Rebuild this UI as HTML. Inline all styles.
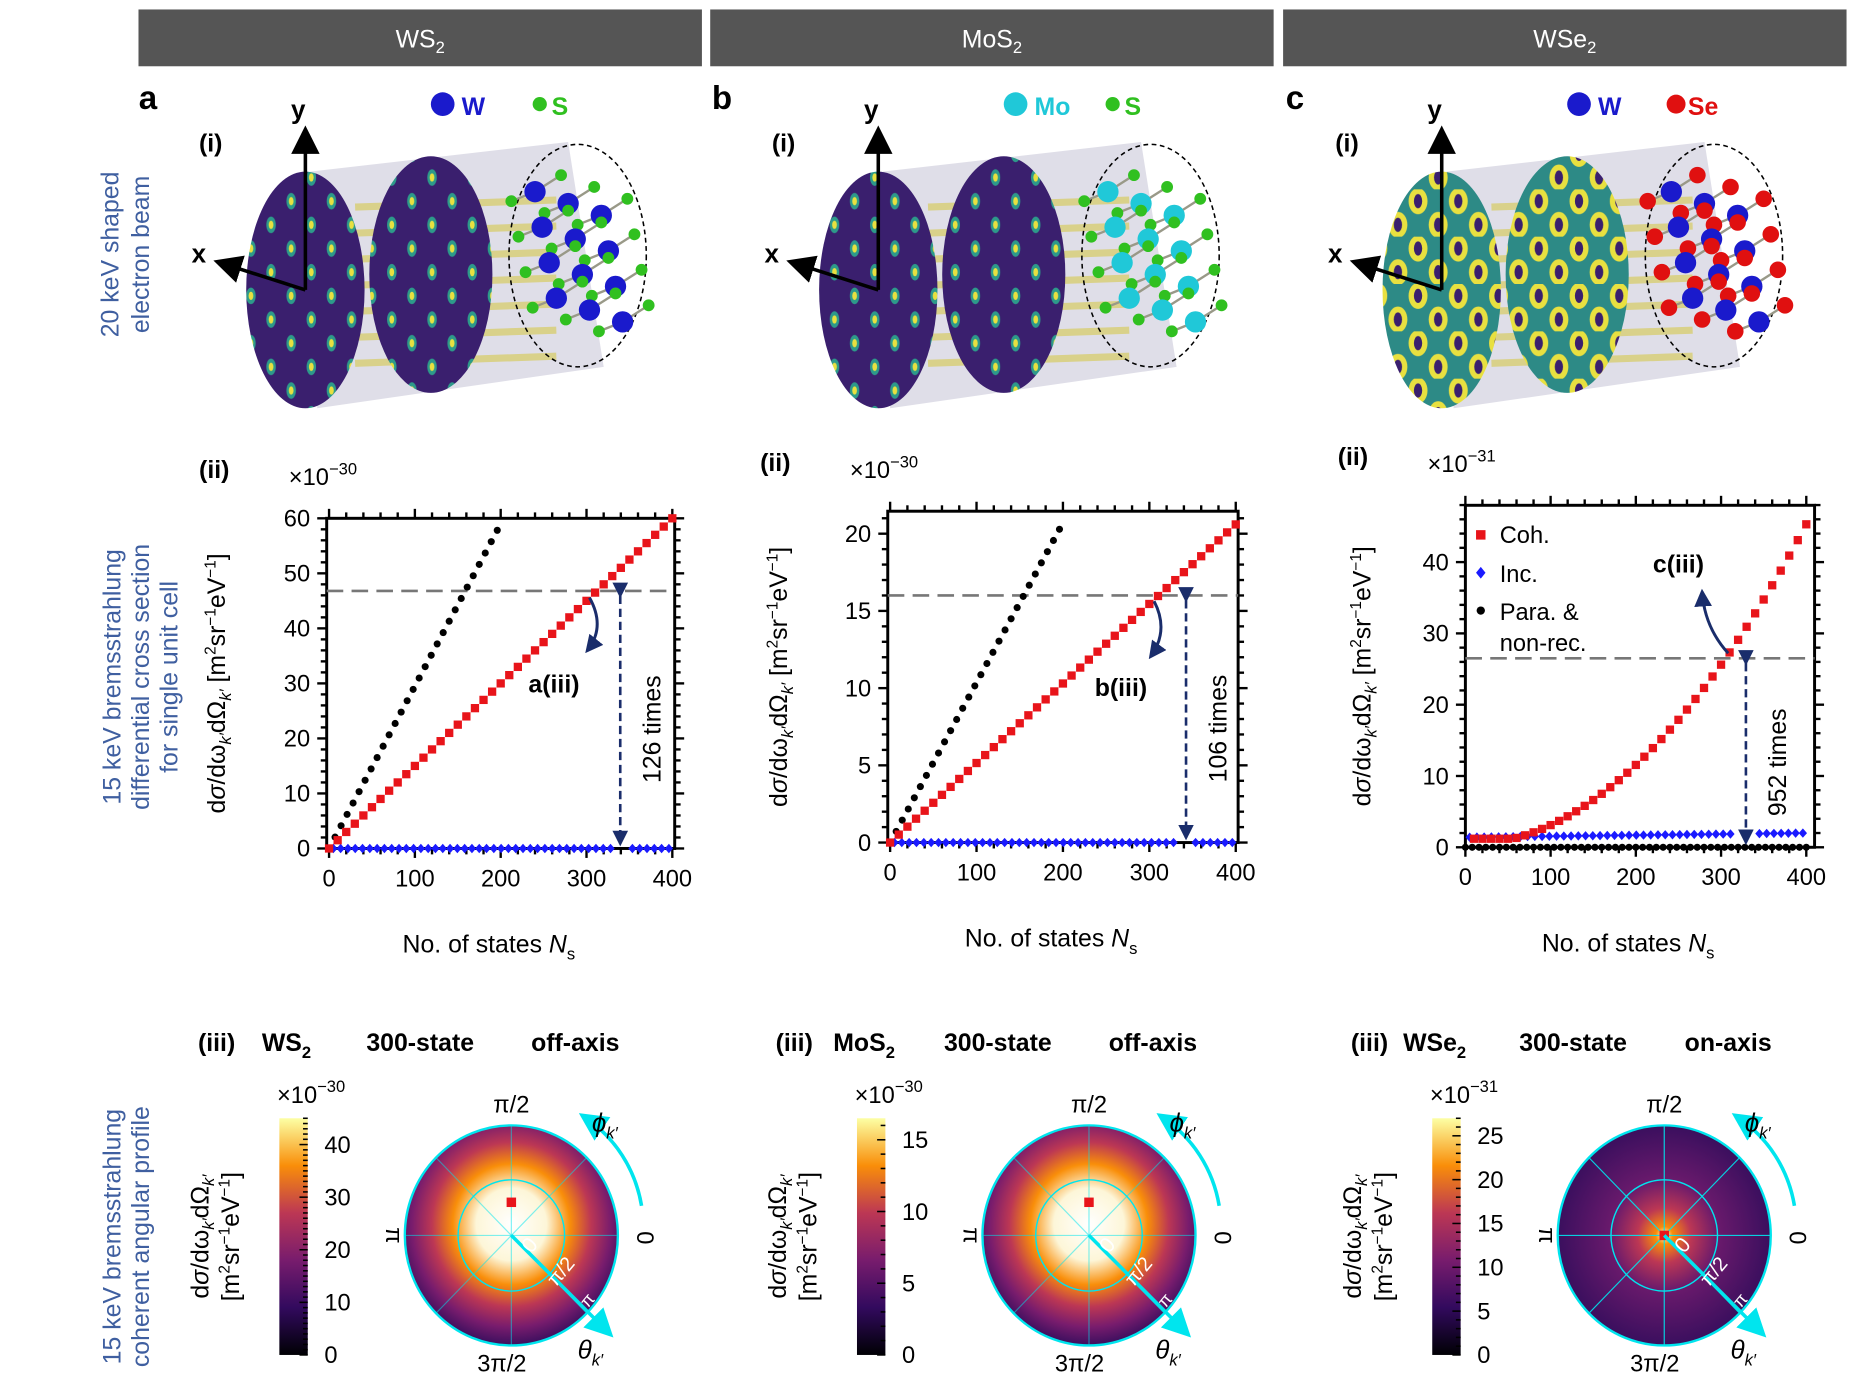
<!DOCTYPE html>
<html><head><meta charset="utf-8"><style>
html,body{margin:0;padding:0;background:#fff;}
svg{display:block;font-family:"Liberation Sans",sans-serif;}
</style></head><body>
<svg id="s" width="1856" height="1394" viewBox="0 0 1568 1178" preserveAspectRatio="none" xmlns="http://www.w3.org/2000/svg">
<defs>
<linearGradient id="inf" x1="0" y1="1" x2="0" y2="0">
<stop offset="0" stop-color="#000004"/><stop offset="0.2" stop-color="#320a5e"/><stop offset="0.4" stop-color="#781c6d"/><stop offset="0.6" stop-color="#bc3754"/><stop offset="0.8" stop-color="#f98e09"/><stop offset="1" stop-color="#fcffa4"/>
</linearGradient>
<radialGradient id="rOff" cx="0.5" cy="0.45" r="0.55">
<stop offset="0" stop-color="#ffffff"/><stop offset="0.3" stop-color="#fdf6d8"/><stop offset="0.5" stop-color="#f98e09"/><stop offset="0.68" stop-color="#bc3754"/><stop offset="0.85" stop-color="#781c6d"/><stop offset="1" stop-color="#3a0f5e"/>
</radialGradient>
<radialGradient id="rOn" cx="0.5" cy="0.5" r="0.5">
<stop offset="0" stop-color="#ffffe0"/><stop offset="0.08" stop-color="#f98e09"/><stop offset="0.25" stop-color="#bc3754"/><stop offset="0.5" stop-color="#6a1a6c"/><stop offset="1" stop-color="#3a0f5e"/>
</radialGradient>
<pattern id="pd" width="34" height="40" patternUnits="userSpaceOnUse">
<rect width="34" height="40" fill="#3a1f6e"/><ellipse cx="8" cy="10" rx="4" ry="7" fill="#2d9a8a"/><ellipse cx="8" cy="10" rx="2" ry="3.5" fill="#e8e040"/><ellipse cx="25" cy="30" rx="4" ry="7" fill="#2d9a8a"/><ellipse cx="25" cy="30" rx="2" ry="3.5" fill="#e8e040"/>
</pattern>
<pattern id="pr" width="34" height="40" patternUnits="userSpaceOnUse">
<rect width="34" height="40" fill="#2d8a86"/><ellipse cx="8" cy="10" rx="8" ry="11" fill="#e8e040"/><ellipse cx="8" cy="10" rx="3.5" ry="6" fill="#3a1f6e"/><ellipse cx="25" cy="30" rx="8" ry="11" fill="#e8e040"/><ellipse cx="25" cy="30" rx="3.5" ry="6" fill="#3a1f6e"/>
</pattern>
<marker id="ah" markerWidth="8" markerHeight="8" refX="6" refY="4" orient="auto"><path d="M0,0L8,4L0,8z" fill="#000"/></marker>
<marker id="an" markerWidth="6" markerHeight="6" refX="5" refY="3" orient="auto"><path d="M0,0L6,3L0,6z" fill="#1a2d6b"/></marker>
<marker id="ac" markerWidth="8" markerHeight="8" refX="6" refY="4" orient="auto"><path d="M0,0L8,4L0,8z" fill="#00e5ee"/></marker>
</defs>
<g id="root"></g>
</svg>
<script>
var R=document.getElementById('root'),H='';
function a(s){H+=s;}
function t(x,y,s,o){o=o||{};a('<text x="'+x+'" y="'+y+'" font-size="'+(o.fs||20)+'" fill="'+(o.c||'#000')+'" text-anchor="'+(o.an||'middle')+'"'+(o.w?' font-weight="bold"':'')+(o.rot!=null?' transform="rotate('+o.rot+' '+x+' '+y+')"':'')+'>'+s+'</text>');}
var hx=[117,600,1084],hn=['WS<tspan font-size="14" dy="5">2</tspan>','MoS<tspan font-size="14" dy="5">2</tspan>','WSe<tspan font-size="14" dy="5">2</tspan>'];
for(var i=0;i<3;i++){a('<rect x="'+hx[i]+'" y="8" width="476" height="48" fill="#555"/>');t(hx[i]+238,40,hn[i],{c:'#fff',fs:21});}
['a','b','c'].forEach(function(l,i){t([125,610,1094][i],92,l,{fs:28,w:1});});
var bl='#3f5fa0';
t(100,215,'20 keV shaped',{c:bl,fs:21,rot:-90});t(126,215,'electron beam',{c:bl,fs:21,rot:-90});
t(102,572,'15 keV bremsstrahlung',{c:bl,fs:21,rot:-90});t(126,572,'differential cross section',{c:bl,fs:21,rot:-90});t(150,572,'for single unit cell',{c:bl,fs:21,rot:-90});
t(102,1045,'15 keV bremsstrahlung',{c:bl,fs:21,rot:-90});t(126,1045,'coherent angular profile',{c:bl,fs:21,rot:-90});
var ofs=[0,484,960];
for(var p=0;p<3;p++){var o=ofs[p];
 a('<polygon points="'+(o+262)+',145 '+(o+480)+',120 '+(o+510)+',310 '+(o+268)+',345" fill="#dcdae6" opacity="0.9"/>');
 for(var k=0;k<7;k++){var yy=175+k*22;a('<line x1="'+(o+300)+'" y1="'+yy+'" x2="'+(o+470)+'" y2="'+(yy-6)+'" stroke="#d8cf7a" stroke-width="6" opacity="0.85"/>');}
 var pat=p==2?'pr':'pd';
 a('<ellipse cx="'+(o+364)+'" cy="232" rx="52" ry="100" fill="url(#'+pat+')"/>');
 a('<ellipse cx="'+(o+488)+'" cy="216" rx="58" ry="94" fill="none" stroke="#000" stroke-dasharray="4,3" stroke-width="1.3"/>');
 var mc=p==1?'#20c8d8':'#1a1acc',xc=p==2?'#e01010':'#30c020';
 for(var r=0;r<4;r++)for(var c=0;c<3;c++){var ax=o+452+c*28+r*6,ay=162+r*30+c*10;
   a('<line x1="'+ax+'" y1="'+ay+'" x2="'+(ax+22)+'" y2="'+(ay-14)+'" stroke="#998" stroke-width="2"/><line x1="'+ax+'" y1="'+ay+'" x2="'+(ax-20)+'" y2="'+(ay+8)+'" stroke="#998" stroke-width="2"/>');
   a('<circle cx="'+(ax+22)+'" cy="'+(ay-14)+'" r="'+(p==2?7:5)+'" fill="'+xc+'"/><circle cx="'+(ax-20)+'" cy="'+(ay+8)+'" r="'+(p==2?7:5)+'" fill="'+xc+'"/>');
   a('<circle cx="'+ax+'" cy="'+ay+'" r="9" fill="'+mc+'"/>');}
 a('<ellipse cx="'+(o+258)+'" cy="245" rx="50" ry="100" fill="url(#'+pat+')"/>');
 a('<line x1="'+(o+258)+'" y1="245" x2="'+(o+258)+'" y2="112" stroke="#000" stroke-width="3" marker-end="url(#ah)"/>');
 a('<line x1="'+(o+258)+'" y1="245" x2="'+(o+186)+'" y2="222" stroke="#000" stroke-width="3" marker-end="url(#ah)"/>');
 t(o+252,100,'y',{fs:22,w:1});t(o+168,222,'x',{fs:22,w:1});t(o+178,128,'(i)',{fs:21,w:1});
 var lg=[['W','S'],['Mo','S'],['W','Se']][p];
 a('<circle cx="'+(o+374)+'" cy="88" r="10" fill="'+mc+'"/>');t(o+390,97,lg[0],{fs:21,w:1,c:p==1?'#20c8d8':'#1a1acc',an:'start'});
 a('<circle cx="'+(o+456)+'" cy="88" r="'+(p==2?8:6)+'" fill="'+xc+'"/>');t(o+466,97,lg[1],{fs:21,w:1,c:p==2?'#e01010':'#30c020',an:'start'});
}
function plot(P){
 var X=function(n){return P.x0+(n/400)*(P.x4-P.x0);},Y=function(v){return P.y0-(v/P.ym)*(P.y0-P.yt);};
 a('<rect x="'+P.bx+'" y="'+P.by+'" width="'+P.bw+'" height="'+P.bh+'" fill="none" stroke="#000" stroke-width="2.5"/>');
 for(var n=0;n<=400;n+=20){var big=n%100==0;a('<line x1="'+X(n)+'" y1="'+(P.by+P.bh)+'" x2="'+X(n)+'" y2="'+(P.by+P.bh+(big?8:5))+'" stroke="#000" stroke-width="2"/><line x1="'+X(n)+'" y1="'+P.by+'" x2="'+X(n)+'" y2="'+(P.by-(big?8:5))+'" stroke="#000" stroke-width="2"/>');if(big)t(X(n),P.by+P.bh+32,n,{fs:20});}
 for(var v=0;v<=P.ym*2;v+=P.mt){var big=Math.abs(v/P.st-Math.round(v/P.st))<1e-6;var y=Y(v);if(y<P.by-1)break;a('<line x1="'+P.bx+'" y1="'+y+'" x2="'+(P.bx-(big?8:5))+'" y2="'+y+'" stroke="#000" stroke-width="2"/><line x1="'+(P.bx+P.bw)+'" y1="'+y+'" x2="'+(P.bx+P.bw+(big?8:5))+'" y2="'+y+'" stroke="#000" stroke-width="2"/>');if(big)t(P.bx-14,y+7,Math.round(v),{fs:20,an:'end'});}
 a('<line x1="'+P.bx+'" y1="'+Y(P.dl)+'" x2="'+(P.bx+P.bw)+'" y2="'+Y(P.dl)+'" stroke="#777" stroke-width="2.2" stroke-dasharray="14,7"/>');
 for(var n=0;n<=P.bmax;n+=(P.bmax>200?8:7)){a('<circle cx="'+X(n)+'" cy="'+Y(P.b(n))+'" r="3" fill="#000"/>');}
 for(var n=5;n<=400;n+=8.5){if(Math.abs(X(n)-P.ax)<7)continue;var x=X(n),y=Y(P.bl(n));a('<path d="M'+x+','+(y-4)+'L'+(x+3.5)+','+y+'L'+x+','+(y+4)+'L'+(x-3.5)+','+y+'z" fill="#1a1aff"/>');}
 for(var n=P.rs;n<=400;n+=10){a('<rect x="'+(X(n)-3.5)+'" y="'+(Y(P.r(n))-3.5)+'" width="7" height="7" fill="#e8141a"/>');}
 a('<line x1="'+P.ax+'" y1="'+(Y(P.dl)+4)+'" x2="'+P.ax+'" y2="'+(Y(0)-4)+'" stroke="#1a2d6b" stroke-width="2.2" stroke-dasharray="7,4" marker-end="url(#an)" marker-start="url(#an)"/>');
 t(P.ax+34,(Y(P.dl)+Y(0))/2+8,P.tm,{fs:21,rot:-90});
 t(P.bx-P.yl,P.by+P.bh/2,'d<tspan font-style="italic">σ</tspan>/dω<tspan font-size="14" dy="5" font-style="italic">k′</tspan><tspan dy="-5">dΩ</tspan><tspan font-size="14" dy="5" font-style="italic">k′</tspan><tspan dy="-5"> [m</tspan><tspan font-size="13" dy="-8">2</tspan><tspan dy="8">sr</tspan><tspan font-size="13" dy="-8">−1</tspan><tspan dy="8">eV</tspan><tspan font-size="13" dy="-8">−1</tspan><tspan dy="8">]</tspan>',{fs:21,rot:-90});
 t(P.bx+P.bw/2-10,P.by+P.bh+88,'No. of states <tspan font-style="italic">N</tspan><tspan font-size="14" dy="6">s</tspan>',{fs:21});
 t(P.bx-32,P.by-28,'×10<tspan font-size="14" dy="-9">'+P.ex+'</tspan>',{fs:20,an:'start'});
 t(P.bx-95,P.by-34,'(ii)',{fs:21,w:1});
}
plot({bx:276,by:438,bw:294,bh:279,x0:278,x4:568,y0:717,yt:438,ym:60,st:10,mt:2,dl:46.8,bmax:200,b:function(n){return n*0.295;},bl:function(){return 0;},r:function(n){return n*0.15;},rs:0,ax:524,tm:'126 times',ex:'−30',yl:86});
plot({bx:750,by:432,bw:296,bh:280,x0:752,x4:1044,y0:712,yt:451,ym:20,st:5,mt:1,dl:16,bmax:200,b:function(n){return n*0.1035;},bl:function(){return 0;},r:function(n){return n*0.0515;},rs:0,ax:1002,tm:'106 times',ex:'−30',yl:85});
plot({bx:1238,by:427,bw:295,bh:289,x0:1238,x4:1526,y0:716,yt:475,ym:40,st:10,mt:2,dl:26.5,bmax:400,b:function(){return 0;},bl:function(n){return 1.4+n*0.0015;},r:function(n){return Math.max(1.2,45*Math.pow(n/400,2)+0.3);},rs:10,ax:1475,tm:'952 times',ex:'−31',yl:80});
t(468,585,'a(iii)',{fs:21,w:1});t(947,588,'b(iii)',{fs:21,w:1});t(1418,484,'c(iii)',{fs:21,w:1});
a('<path d="M498,505 Q512,530 496,550" fill="none" stroke="#1a2d6b" stroke-width="2.5" marker-end="url(#an)"/>');
a('<path d="M975,508 Q988,533 972,555" fill="none" stroke="#1a2d6b" stroke-width="2.5" marker-end="url(#an)"/>');
a('<path d="M1460,552 Q1440,530 1438,500" fill="none" stroke="#1a2d6b" stroke-width="2.5" marker-end="url(#an)"/>');
a('<rect x="1247" y="448" width="8" height="8" fill="#e8141a"/>');t(1267,459,'Coh.',{fs:20,an:'start'});
a('<path d="M1251,479L1255,484L1251,489L1247,484z" fill="#1a1aff"/>');t(1267,492,'Inc.',{fs:20,an:'start'});
a('<circle cx="1251" cy="516" r="3.5" fill="#000"/>');t(1267,524,'Para. &amp;',{fs:20,an:'start'});t(1267,550,'non-rec.',{fs:20,an:'start'});
var tl=[['WS','off-axis'],['MoS','off-axis'],['WSe','on-axis']],bo=[0,488,974],cm=[[45,'−30',10],[16.5,'−30',5],[27,'−31',5]];
for(var p=0;p<3;p++){var o=bo[p];
 t(o+183,888,'(iii)',{fs:21,w:1});t(o+(p==2?238:242),888,tl[p][0]+'<tspan font-size="14" dy="6">2</tspan>',{fs:21,w:1});t(o+355,888,'300-state',{fs:21,w:1});t(o+486,888,tl[p][1],{fs:21,w:1});
 var cx=o+236,cy0=945,ch=200;
 a('<rect x="'+cx+'" y="'+cy0+'" width="24" height="'+ch+'" fill="url(#inf)"/>');
 var mx=cm[p][0];
 for(var v=0;v<=mx;v+=1){var y=cy0+ch-v/mx*ch;var big=(v%cm[p][2]==0);a('<line x1="'+(cx+24)+'" y1="'+y+'" x2="'+(cx+24-(big?7:4))+'" y2="'+y+'" stroke="#000" stroke-width="1.3"/>');if(big)t(cx+38,y+7,v,{fs:20,an:'start'});}
 t(cx-2,932,'×10<tspan font-size="14" dy="-9">'+cm[p][1]+'</tspan>',{fs:20,an:'start'});
 t(cx-60,1045,'d<tspan font-style="italic">σ</tspan>/dω<tspan font-size="14" dy="5" font-style="italic">k′</tspan><tspan dy="-5">dΩ</tspan><tspan font-size="14" dy="5" font-style="italic">k′</tspan>',{fs:21,rot:-90});
 t(cx-34,1045,'[m<tspan font-size="13" dy="-8">2</tspan><tspan dy="8">sr</tspan><tspan font-size="13" dy="-8">−1</tspan><tspan dy="8">eV</tspan><tspan font-size="13" dy="-8">−1</tspan><tspan dy="8">]</tspan>',{fs:21,rot:-90});
 var X0=o+432,Y0=1044;
 a('<ellipse cx="'+X0+'" cy="'+Y0+'" rx="90" ry="93" fill="url(#'+(p==2?'rOn':'rOff')+')" stroke="#00e5ee" stroke-width="2"/>');
 a('<ellipse cx="'+X0+'" cy="'+Y0+'" rx="45" ry="47" fill="none" stroke="#00e5ee" stroke-width="1.2"/>');
 for(var k=0;k<8;k++){var an=k*Math.PI/4;a('<line x1="'+X0+'" y1="'+Y0+'" x2="'+(X0+Math.cos(an)*90)+'" y2="'+(Y0-Math.sin(an)*93)+'" stroke="#00e5ee" stroke-width="1" opacity="'+(p==2?0.9:0.5)+'"/>');}
 a('<rect x="'+(X0-4)+'" y="'+(p==2?Y0-4:Y0-32)+'" width="8" height="8" fill="#e8141a"/>');
 a('<line x1="'+X0+'" y1="'+Y0+'" x2="'+(X0+82)+'" y2="'+(Y0+82)+'" stroke="#00e5ee" stroke-width="3" marker-end="url(#ac)"/>');
 t(X0+20,Y0+12,'0',{fs:18,c:'#fff',rot:-50});t(X0+46,Y0+34,'π/2',{fs:17,c:'#fff',rot:-50});t(X0+68,Y0+58,'π',{fs:15,c:'#fff',rot:-50});
 a('<path d="M'+(X0+110)+','+(Y0-25)+' A110,112 0 0 0 '+(X0+62)+','+(Y0-100)+'" fill="none" stroke="#00e5ee" stroke-width="3" marker-end="url(#ac)"/>');
 t(X0,Y0-104,'π/2',{fs:20});t(X0-8,Y0+115,'3π/2',{fs:20});t(X0+106,Y0+2,'0',{fs:20,rot:90});t(X0-106,Y0,'π',{fs:20,rot:90});
 t(X0+68,Y0-88,'<tspan font-style="italic">ϕ</tspan><tspan font-size="14" dy="6" font-style="italic">k′</tspan>',{fs:22,an:'start'});
 t(X0+56,Y0+104,'<tspan font-style="italic">θ</tspan><tspan font-size="14" dy="6" font-style="italic">k′</tspan>',{fs:22,an:'start'});
}
R.innerHTML=H;
</script>
</body></html>
